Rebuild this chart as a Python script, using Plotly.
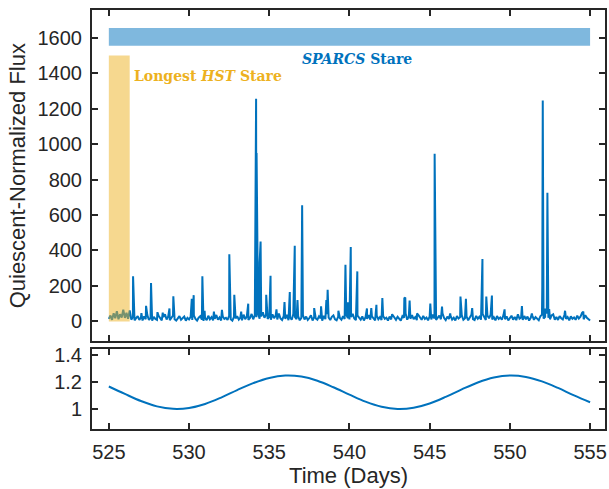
import plotly.graph_objects as go

# ---------------- data ----------------
# quiescent baseline, regular cadence starting at 525.0 d, one value per 0.1 d
base_start = 525.0
base_step = 0.1
baseline_flux = [
    14, 33, 9, 46, 18, 58, 12, 40, 22, 66,
    20, 48, 15, 62, 10, 25, 6, 18, 30, 8,
    22, 5, 28, 12, 35, 8, 20, 4, 26, 14,
    9, 31, 18, 6, 24, 40, 11, 28, 7, 19,
    33, 12, 5, 22, 30, 9, 17, 27, 4, 20,
    11, 26, 8, 34, 14, 5, 21, 29, 10, 3,
    18, 7, 32, 12, 24, 6, 15, 36, 9, 22,
    5, 28, 14, 20, 8, 31, 12, 4, 25, 17,
    30, 10, 22, 6, 38, 13, 27, 8, 19, 42,
    12, 35, 24, 46, 15, 28, 52, 20, 38, 14,
    26, 9, 40, 18, 33, 11, 44, 16, 8, 29,
    14, 37, 7, 22, 10, 41, 25, 12, 30, 6,
    20, 34, 11, 27, 8, 19, 35, 5, 24, 16,
    9, 28, 17, 4, 31, 13, 40, 22, 8, 26,
    34, 12, 6, 27, 19, 9, 30, 14, 38, 18,
    11, 25, 42, 16, 7, 33, 21, 10, 28, 5,
    23, 14, 36, 9, 29, 18, 6, 32, 12, 24,
    8, 30, 15, 21, 5, 27, 11, 34, 17, 9,
    26, 13, 4, 30, 20, 44, 10, 28, 15, 36,
    12, 24, 7, 35, 18, 9, 31, 14, 22, 6,
    29, 11, 38, 16, 8, 25, 33, 12, 45, 19,
    7, 27, 14, 32, 10, 21, 5, 30, 16, 24,
    35, 9, 18, 28, 6, 22, 37, 13, 8, 31,
    15, 26, 10, 42, 20, 8, 33, 17, 38, 11,
    24, 6, 30, 14, 22, 9, 35, 12, 28, 5,
    18, 32, 10, 25, 7, 40, 15, 22, 8, 30,
    12, 27, 5, 20, 33, 9, 24, 14, 6, 29,
    38, 16, 26, 45, 20, 12, 34, 40, 10, 25,
    8, 30, 18, 11, 36, 14, 24, 6, 28, 15,
    22, 9, 32, 16, 26, 48, 12, 35, 20, 10,
    5,
]

# flare peaks (time in days, quiescent-normalized flux)
flare_time = [
    526.51, 527.03, 527.32, 527.63, 528.03, 528.36, 528.78, 529.02,
    530.17, 530.29, 530.83, 530.97, 531.55, 532.05, 532.51, 532.82,
    533.25, 533.69, 534.18, 534.21, 534.40, 534.46, 534.81, 535.02,
    535.08, 535.45, 535.95, 536.28, 536.59, 536.76, 537.05, 537.80,
    538.23, 538.56, 538.64, 539.31, 539.75, 539.91, 540.08, 540.49,
    541.09, 541.36, 541.68, 542.05, 542.66, 543.42, 543.48, 543.75,
    544.21, 545.04, 545.31, 545.77, 546.28, 546.92, 547.26, 547.65,
    548.29, 548.53, 548.88, 549.67, 550.75, 551.37, 552.02, 552.05,
    552.20, 552.34, 552.45, 553.44, 554.58,
]
flare_flux = [
    254, 47, 88, 216, 52, 50, 73, 141,
    128, 148, 254, 60, 55, 65, 378, 150,
    55, 100, 1255, 950, 330, 450, 150, 105,
    257, 68, 109, 165, 426, 120, 655, 75,
    85, 120, 178, 60, 320, 108, 419, 282,
    73, 75, 94, 131, 40, 131, 135, 118,
    45, 100, 945, 83, 45, 140, 128, 75,
    352, 140, 146, 68, 86, 45, 200, 1245,
    73, 725, 70, 60, 55,
]

# rotational modulation (lower panel)
mod_time = [525, 526, 527, 528, 529, 530, 531, 532, 533, 534, 535,
            536, 537, 538, 539, 540, 541, 542, 543, 544, 545, 546,
            547, 548, 549, 550, 551, 552, 553, 554, 555]
mod_flux = [1.168, 1.112, 1.059, 1.019, 1.001, 1.007, 1.037, 1.085, 1.141,
            1.193, 1.232, 1.2495, 1.242, 1.211, 1.162, 1.107, 1.0545, 1.0165,
            1.0003, 1.0091, 1.041, 1.090, 1.146, 1.1977, 1.2348, 1.2499,
            1.2396, 1.2065, 1.157, 1.101, 1.050]

x_ticks = [525, 530, 535, 540, 545, 550, 555]
y_ticks_top = [0, 200, 400, 600, 800, 1000, 1200, 1400, 1600]
y_ticks_bot = [1, 1.2, 1.4]
y_ticks_bot_text = ["1", "1.2", "1.4"]

sparcs_window = [525, 555, 1555, 1655]
hst_window = [525, 526.3, 0, 1500]

# ---------------- build ----------------
base_time = [round(base_start + i * base_step, 3) for i in range(len(baseline_flux))]
pts = sorted(zip(base_time + flare_time, baseline_flux + flare_flux))
lc_time = [p[0] for p in pts]
lc_flux = [p[1] for p in pts]

BLUE = "#0072BD"
GOLD = "#EDB120"
AX = "#262626"

fig = go.Figure()
fig.add_trace(go.Scatter(x=lc_time, y=lc_flux, mode="lines",
                         line=dict(color=BLUE, width=2),
                         xaxis="x", yaxis="y", showlegend=False))
fig.add_trace(go.Scatter(x=mod_time, y=mod_flux, mode="lines",
                         line=dict(color=BLUE, width=2, shape="spline"),
                         xaxis="x2", yaxis="y2", showlegend=False))

fig.add_shape(type="rect", xref="x", yref="y",
              x0=sparcs_window[0], x1=sparcs_window[1],
              y0=sparcs_window[2], y1=sparcs_window[3],
              fillcolor=BLUE, opacity=0.5, line=dict(width=0), layer="above")
fig.add_shape(type="rect", xref="x", yref="y",
              x0=hst_window[0], x1=hst_window[1],
              y0=hst_window[2], y1=hst_window[3],
              fillcolor=GOLD, opacity=0.5, line=dict(width=0), layer="above")

fig.add_annotation(x=540.5, y=1480, xref="x", yref="y",
                   text="<b><i>SPARCS</i> Stare</b>", showarrow=False,
                   font=dict(family="DejaVu Serif", size=14, color=BLUE))
fig.add_annotation(x=526.45, y=1384, xref="x", yref="y", xanchor="left",
                   text="<b>Longest <i>HST</i> Stare</b>", showarrow=False,
                   font=dict(family="DejaVu Serif", size=14, color=GOLD))

axis_common = dict(showline=True, linecolor=AX, linewidth=2, mirror="ticks",
                   ticks="inside", ticklen=6, tickwidth=2, tickcolor=AX,
                   showgrid=False, zeroline=False, automargin=False,
                   tickfont=dict(family="Liberation Sans", size=20, color=AX))

xr = [523.95, 555.93]
fig.update_layout(
    width=609, height=489,
    margin=dict(l=92, r=4, t=10, b=60),
    paper_bgcolor="white", plot_bgcolor="white",
    font=dict(family="Liberation Sans", color=AX),
    xaxis=dict(axis_common, anchor="y", domain=[0, 1], range=xr,
               tickvals=x_ticks, showticklabels=False),
    yaxis=dict(axis_common, anchor="x", domain=[0.209, 1], range=[-113, 1756],
               tickvals=y_ticks_top, ticklabelstandoff=4,
               title=dict(text="Quiescent-Normalized Flux", standoff=6,
                          font=dict(family="Liberation Sans", size=22, color=AX))),
    xaxis2=dict(axis_common, anchor="y2", domain=[0, 1], range=xr,
                tickvals=x_ticks, ticklabelstandoff=4,
                title=dict(text="Time (Days)", standoff=4,
                           font=dict(family="Liberation Sans", size=22, color=AX))),
    yaxis2=dict(axis_common, anchor="x2", domain=[0, 0.1915], range=[0.85, 1.45],
                tickvals=y_ticks_bot, ticktext=y_ticks_bot_text, ticklabelstandoff=4),
)

fig.write_html("out.html", config={"displayModeBar": False},
               post_script="document.body.style.margin='0';document.body.style.overflow='hidden';")
